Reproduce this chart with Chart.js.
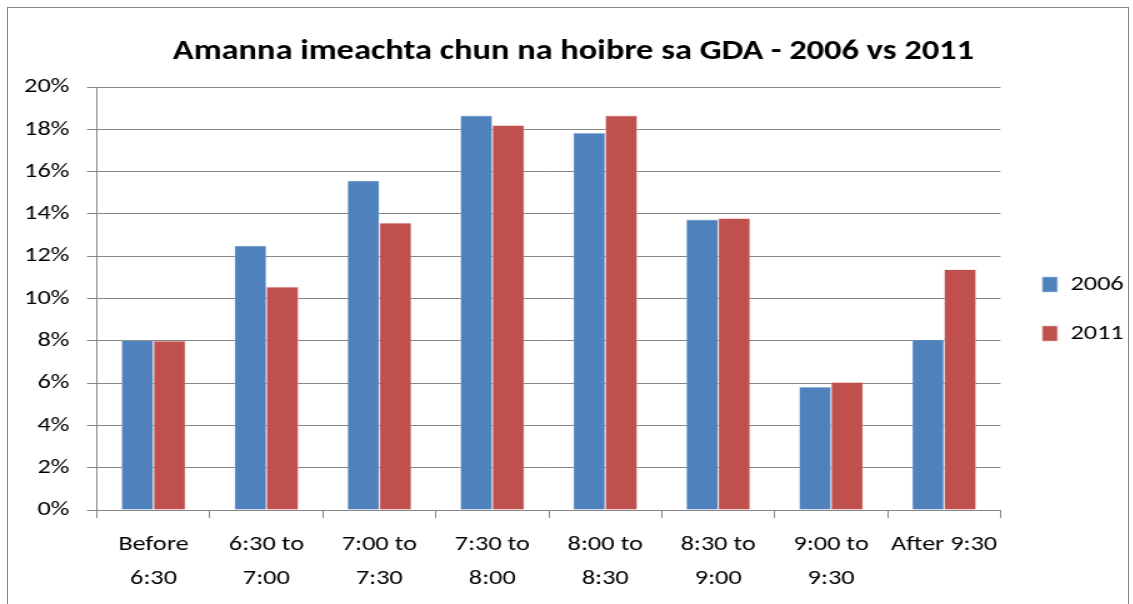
<!DOCTYPE html>
<html>
<head>
<meta charset="utf-8">
<script src="https://cdn.jsdelivr.net/npm/chart.js@4"></script>
<style>
  html, body { margin: 0; padding: 0; background: #fff; }
  #wrap { position: relative; width: 1133px; height: 604px; overflow: hidden; }
  #frame { position: absolute; left: 7px; top: 7px; width: 1120px; height: 640px; border: 1px solid #868686; }
  /* the original picture is stretched sideways, so the chart is drawn narrower and widened */
  #chart { position: absolute; left: 0; top: 0; transform: scaleX(1.25); transform-origin: 0 0; }
</style>
</head>
<body>
<div id="wrap">
  <div id="frame"></div>
  <canvas id="chart" width="906" height="604"></canvas>
</div>
<script>
const categories = [
  ['Before', '6:30'],
  ['6:30 to', '7:00'],
  ['7:00 to', '7:30'],
  ['7:30 to', '8:00'],
  ['8:00 to', '8:30'],
  ['8:30 to', '9:00'],
  ['9:00 to', '9:30'],
  'After 9:30'
];
const values2006 = [8.02, 12.5, 15.57, 18.65, 17.83, 13.73, 5.82, 8.05];
const values2011 = [7.99, 10.55, 13.58, 18.19, 18.65, 13.79, 6.04, 11.37];
const yTicks = [0, 2, 4, 6, 8, 10, 12, 14, 16, 18, 20];

const font = "Carlito, Calibri, Lato, 'Open Sans', sans-serif";
const gridGray = '#868686';

// nudge the legend a little, like the original
const legendShift = {
  id: 'legendShift',
  afterLayout(chart) {
    const l = chart.legend;
    l.left += 5.5; l.right += 5.5;
    l.top += 7; l.bottom += 7;
  }
};

const ctx = document.getElementById('chart').getContext('2d');
new Chart(ctx, {
  type: 'bar',
  data: {
    labels: categories,
    datasets: [
      { label: '2006', data: values2006, backgroundColor: '#4F81BD', borderColor: '#B9CDE5', borderWidth: 0.6 },
      { label: '2011', data: values2011, backgroundColor: '#C0504D', borderColor: '#E6B9B8', borderWidth: 0.6 }
    ]
  },
  plugins: [legendShift],
  options: {
    responsive: false,
    animation: false,
    layout: { padding: { left: 14, right: 2.5, top: 0, bottom: 0 } },
    datasets: { bar: { barPercentage: 1, categoryPercentage: 0.567 } },
    plugins: {
      title: {
        display: true,
        text: 'Amanna imeachta chun na hoibre sa GDA - 2006 vs 2011',
        color: '#000',
        font: { family: font, size: 27.5, weight: 'bold', lineHeight: 1.2 },
        padding: { top: 36, bottom: 18 }
      },
      legend: {
        position: 'right',
        labels: {
          color: '#000',
          font: { family: font, size: 21 },
          boxWidth: 12,
          boxHeight: 15,
          padding: 28
        }
      },
      tooltip: { enabled: false }
    },
    scales: {
      x: {
        afterFit: (s) => { s.height = 94; },
        grid: { offset: true, drawOnChartArea: false, color: gridGray, tickLength: 8 },
        border: { color: gridGray, width: 1 },
        ticks: {
          color: '#000',
          maxRotation: 0,
          autoSkip: false,
          padding: 10,
          font: { family: font, size: 21, lineHeight: 1.6 }
        }
      },
      y: {
        min: 0,
        max: 20,
        afterFit: (s) => { s.width = 63.6; },
        afterBuildTicks: (s) => { s.ticks = yTicks.map(v => ({ value: v })); },
        grid: { color: gridGray, lineWidth: 1, tickLength: 8 },
        border: { color: gridGray, width: 1 },
        ticks: {
          color: '#000',
          padding: 14,
          font: { family: font, size: 21 },
          callback: (v) => v + '%'
        }
      }
    }
  }
});
</script>
</body>
</html>
